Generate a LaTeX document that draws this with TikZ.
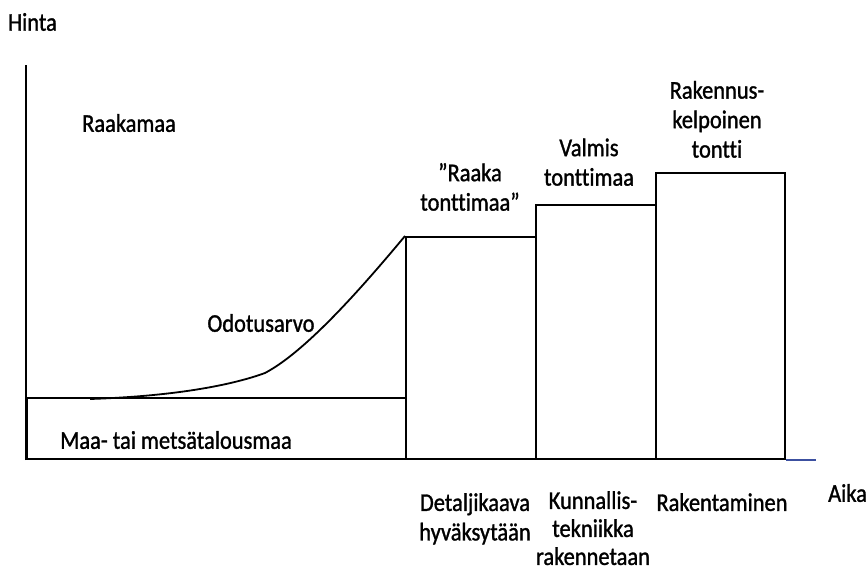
\documentclass[tikz,border=0pt]{standalone}
\usepackage{fontspec}
\setmainfont{Carlito}[FakeStretch=0.88,FakeBold=1.2,RawFeature=-liga]
\begin{document}
\begin{tikzpicture}[x=1pt,y=-1pt,
  line/.style={line width=2pt,line join=miter},
  box/.style={draw,line width=2pt,inner sep=0pt,anchor=south west},
  lbl/.style={inner sep=0pt,align=center,font=\fontsize{25.5}{29.5}\selectfont},
  lblleft/.style={lbl,align=left,anchor=west}]
\useasboundingbox (0,0) rectangle (868,572);

% price steps
\node[box,minimum width=379pt,minimum height=61pt] (base) at (26,460) {};
\node[box,minimum width=130pt,minimum height=222pt] (raw) at (405,460) {};
\node[box,minimum width=120pt,minimum height=254pt] (ready) at (535,460) {};
\node[box,minimum width=129pt,minimum height=286pt] (build) at (655,460) {};

% axes
\coordinate (ytop) at (26,65);
\coordinate (xend) at (816,460);
\draw[line] (base.south west) -- (ytop);
\draw[line width=1.5pt,color={rgb,255:red,60;green,80;blue,160}] (build.south east) -- (xend);

% expectation value curve
\coordinate (cstart) at (90,399);
\coordinate (cmid) at (265,373);
\draw[line width=1.8pt] (cstart) .. controls (180,396) and (235,384) .. (cmid)
  .. controls (305,352) and (360,290) .. (raw.north west);

% labels
\node[lblleft] (hinta) at (8,22) {Hinta};
\node[lblleft] (aika) at (828,493) {Aika};
\node[lblleft] (raakamaa) at (82,123) {Raakamaa};
\node[lbl] (odotus) at (261,323) {Odotusarvo};
\node[lblleft] (maa) at (60,440) {Maa- tai metsätalousmaa};
\node[lbl,anchor=south] (t1) at (470,211) {”Raaka\\tonttimaa”};
\node[lbl,anchor=south] (t2) at (589,186) {Valmis\\tonttimaa};
\node[lbl,anchor=south] (t3) at (717,158) {Rakennus-\\kelpoinen\\tontti};
\node[lbl,anchor=north] (b1) at (475,493) {Detaljikaava\\hyväksytään};
\node[lbl,anchor=north,font=\fontsize{25.5}{28}\selectfont] (b2) at (593,491) {Kunnallis-\\tekniikka\\rakennetaan};
\node[lbl,anchor=north] (b3) at (722,493) {Rakentaminen};
\end{tikzpicture}
\end{document}
